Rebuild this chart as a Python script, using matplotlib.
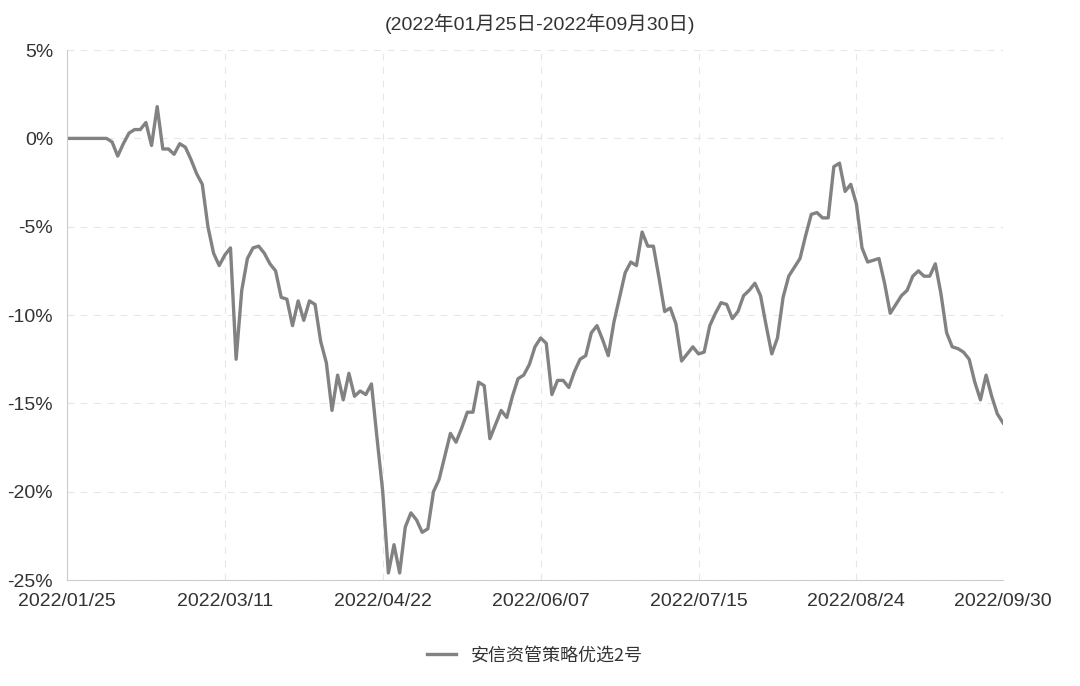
import matplotlib
matplotlib.use('Agg')
import matplotlib.pyplot as plt
from matplotlib.ticker import FuncFormatter

plt.rcParams['font.family'] = ['Liberation Sans', 'Noto Sans CJK SC', 'DejaVu Sans']

title = '(2022年01月25日-2022年09月30日)'
series_name = '安信资管策略优选2号'

# cumulative return (%) per trading day
returns = [
    0.0, 0.0, 0.0, 0.0, 0.0, 0.0, 0.0, 0.0, -0.2, -1.0,
    -0.3, 0.3, 0.5, 0.5, 0.9, -0.4, 1.8, -0.6, -0.6, -0.9,
    -0.3, -0.5, -1.2, -2.0, -2.6, -5.0, -6.5, -7.2, -6.6, -6.2,
    -12.5, -8.6, -6.8, -6.2, -6.1, -6.5, -7.1, -7.5, -9.0, -9.1,
    -10.6, -9.2, -10.3, -9.2, -9.4, -11.5, -12.7, -15.4, -13.4, -14.8,
    -13.3, -14.6, -14.3, -14.5, -13.9, -17.0, -20.0, -24.6, -23.0, -24.6,
    -22.0, -21.2, -21.6, -22.3, -22.1, -20.0, -19.3, -18.0, -16.7, -17.2,
    -16.4, -15.5, -15.5, -13.8, -14.0, -17.0, -16.2, -15.4, -15.8, -14.6,
    -13.6, -13.4, -12.8, -11.8, -11.3, -11.6, -14.5, -13.7, -13.7, -14.1,
    -13.2, -12.5, -12.3, -11.0, -10.6, -11.4, -12.3, -10.4, -9.0, -7.6,
    -7.0, -7.2, -5.3, -6.1, -6.1, -7.9, -9.8, -9.6, -10.5, -12.6,
    -12.2, -11.8, -12.2, -12.1, -10.6, -9.9, -9.3, -9.4, -10.2, -9.8,
    -8.9, -8.6, -8.2, -8.9, -10.6, -12.2, -11.3, -9.0, -7.8, -7.3,
    -6.8, -5.5, -4.3, -4.2, -4.5, -4.5, -1.6, -1.4, -3.0, -2.6,
    -3.7, -6.2, -7.0, -6.9, -6.8, -8.2, -9.9, -9.4, -8.9, -8.6,
    -7.8, -7.5, -7.8, -7.8, -7.1, -8.8, -11.0, -11.8, -11.9, -12.1,
    -12.5, -13.8, -14.8, -13.4, -14.6, -15.6, -16.1,
]
tick_idx = [0, 28, 56, 84, 112, 140, 166]
tick_labels = ['2022/01/25', '2022/03/11', '2022/04/22', '2022/06/07',
               '2022/07/15', '2022/08/24', '2022/09/30']
y_ticks = [5, 0, -5, -10, -15, -20, -25]

fig = plt.figure(figsize=(10.8, 6.86), dpi=100)
ax = fig.add_axes([0.062, 0.1545, 0.8667, 0.7725])

ax.plot(range(len(returns)), returns, color='#828282', lw=2.4, label=series_name)

ax.set_xlim(0, len(returns) - 1)
ax.set_ylim(-25, 5)
ax.set_yticks(y_ticks)
ax.yaxis.set_major_formatter(FuncFormatter(lambda v, p: f'{v:.0f}%'))
ax.set_xticks(tick_idx)
ax.set_xticklabels(tick_labels)
ax.tick_params(length=0, labelsize=14, colors='#333333', pad=9)
ax.tick_params(axis='y', pad=10)

ax.grid(True, color='#e6e6e6', lw=0.8, ls=(0, (6, 6)))
for s in ['top', 'right']:
    ax.spines[s].set_visible(False)
ax.spines['left'].set_color('#cccccc')
ax.spines['bottom'].set_color('#cccccc')

fig.text(0.5, 0.965, title, ha='center', va='center', fontsize=14, color='#333333')
ax.legend(loc='upper center', bbox_to_anchor=(0.5, -0.095), frameon=False,
          handlelength=1.6, labelcolor='#333333',
          prop={'family': ['Noto Sans CJK SC', 'DejaVu Sans'], 'size': 13})

fig.savefig('out.png', dpi=100)
